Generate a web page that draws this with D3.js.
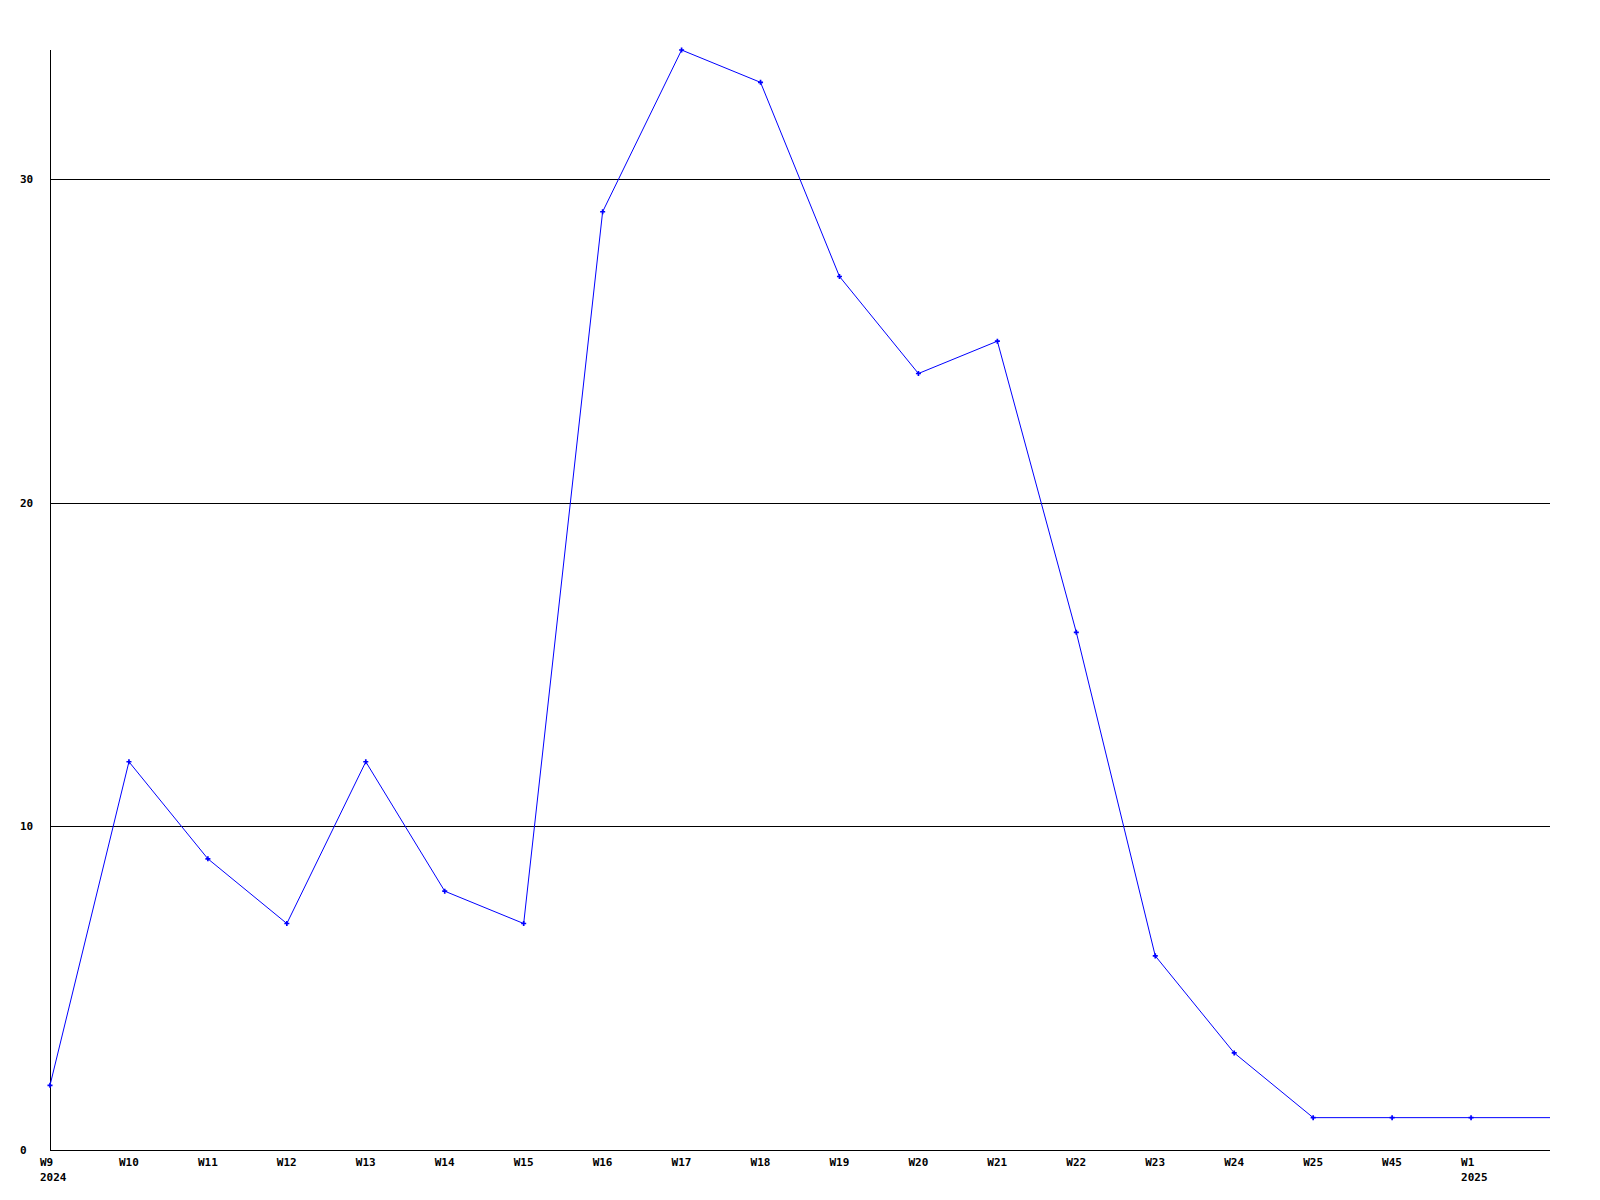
<!DOCTYPE html>
<html><head><meta charset="utf-8">
<script src="https://cdn.jsdelivr.net/npm/d3@7"></script>
<style>body{margin:0;background:#fff}svg{display:block}text{font-family:"DejaVu Sans Mono",monospace;font-weight:bold;font-size:11px;fill:#000}</style>
</head><body><svg id="c" width="1600" height="1200"></svg>
<script>
const categories = ["W9","W10","W11","W12","W13","W14","W15","W16","W17","W18","W19","W20","W21","W22","W23","W24","W25","W45","W1",""];
const yearLabels = ["2024","","","","","","","","","","","","","","","","","","2025",""];
const values = [2,12,9,7,12,8,7,29,34,33,27,24,25,16,6,3,1,1,1,1];
const markerShown = values.map((v,i)=>i<19);
const yTicks = [0,10,20,30];

(function(){
const svg = d3.select("#c");
const pl=50, pr=1550, pt=50, pb=1150;
const x = d3.scalePoint().domain(d3.range(values.length)).range([pl,pr]);
const y = d3.scaleLinear().domain([0,34]).range([pb,pt]);

svg.append("g").selectAll("line").data(yTicks.filter(t=>t>0)).join("line")
  .attr("x1",pl).attr("x2",pr).attr("y1",d=>Math.round(y(d))+0.5).attr("y2",d=>Math.round(y(d))+0.5)
  .attr("stroke","#000").attr("stroke-width",1).attr("shape-rendering","crispEdges");
svg.append("line").attr("x1",pl+0.5).attr("x2",pl+0.5).attr("y1",pt).attr("y2",pb+1).attr("stroke","#000").attr("shape-rendering","crispEdges");
svg.append("line").attr("x1",pl).attr("x2",pr).attr("y1",pb+0.5).attr("y2",pb+0.5).attr("stroke","#000").attr("shape-rendering","crispEdges");

svg.append("g").selectAll("text").data(yTicks).join("text")
  .attr("x",20).attr("y",d=>y(d)).attr("dy","0.35em").text(d=>d);

svg.append("g").selectAll("text").data(categories).join("text")
  .attr("x",(d,i)=>x(i)-10).attr("y",pb+16).text(d=>d);
svg.append("g").selectAll("text").data(yearLabels).join("text")
  .attr("x",(d,i)=>x(i)-10).attr("y",pb+31).text(d=>d);

const line = d3.line().x((d,i)=>x(i)).y(d=>y(d));
svg.append("path").datum(values).attr("d",line).attr("fill","none")
  .attr("stroke","#0000ff").attr("stroke-width",1);

const pts = values.map((v,i)=>({v,i})).filter(d=>markerShown[d.i]);
svg.append("g").selectAll("path").data(pts).join("path")
  .attr("d",d3.symbol(d3.symbolCross,14)())
  .attr("transform",d=>`translate(${x(d.i)},${y(d.v)})`)
  .attr("fill","#0000ff");
})();
</script></body></html>
